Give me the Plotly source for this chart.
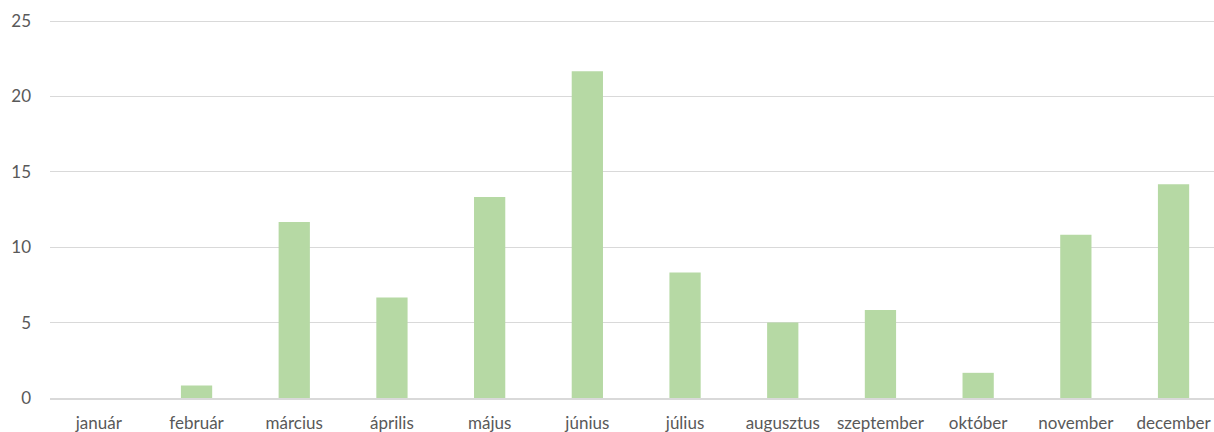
import plotly.graph_objects as go

months = ["január", "február", "március", "április", "május", "június",
          "július", "augusztus", "szeptember", "október", "november", "december"]
values = [0, 0.83, 11.67, 6.67, 13.33, 21.67, 8.33, 5.0, 5.83, 1.67, 10.83, 14.17]
y_ticks = [0, 5, 10, 15, 20, 25]

fig = go.Figure(go.Bar(
    x=months, y=values,
    marker=dict(color="#b6d9a4", line=dict(width=0)),
    width=0.32,
))

font_family = "Lato, 'Open Sans', sans-serif"
fig.update_layout(
    width=1214, height=432,
    margin=dict(l=50, r=0, t=18, b=34),
    paper_bgcolor="white", plot_bgcolor="white",
    showlegend=False,
    font=dict(family=font_family, size=17, color="#595959"),
)
fig.update_xaxes(
    range=[-0.5, 11.414],
    automargin=False,
    showgrid=False,
    showline=True, linecolor="#d9d9d9", linewidth=2,
    ticks="", ticklabelstandoff=9,
    tickfont=dict(family=font_family, size=17, color="#595959"),
)
fig.update_yaxes(
    range=[0, 25.2],
    automargin=False,
    tickvals=y_ticks,
    showgrid=True, gridcolor="#d9d9d9", gridwidth=1,
    zeroline=False, showline=False,
    ticks="", ticklabelstandoff=18,
    tickfont=dict(family=font_family, size=17, color="#595959"),
)

fig.write_html(
    "out.html",
    config={"displayModeBar": False},
    post_script="document.body.style.margin='0';document.body.style.overflow='hidden';",
)
